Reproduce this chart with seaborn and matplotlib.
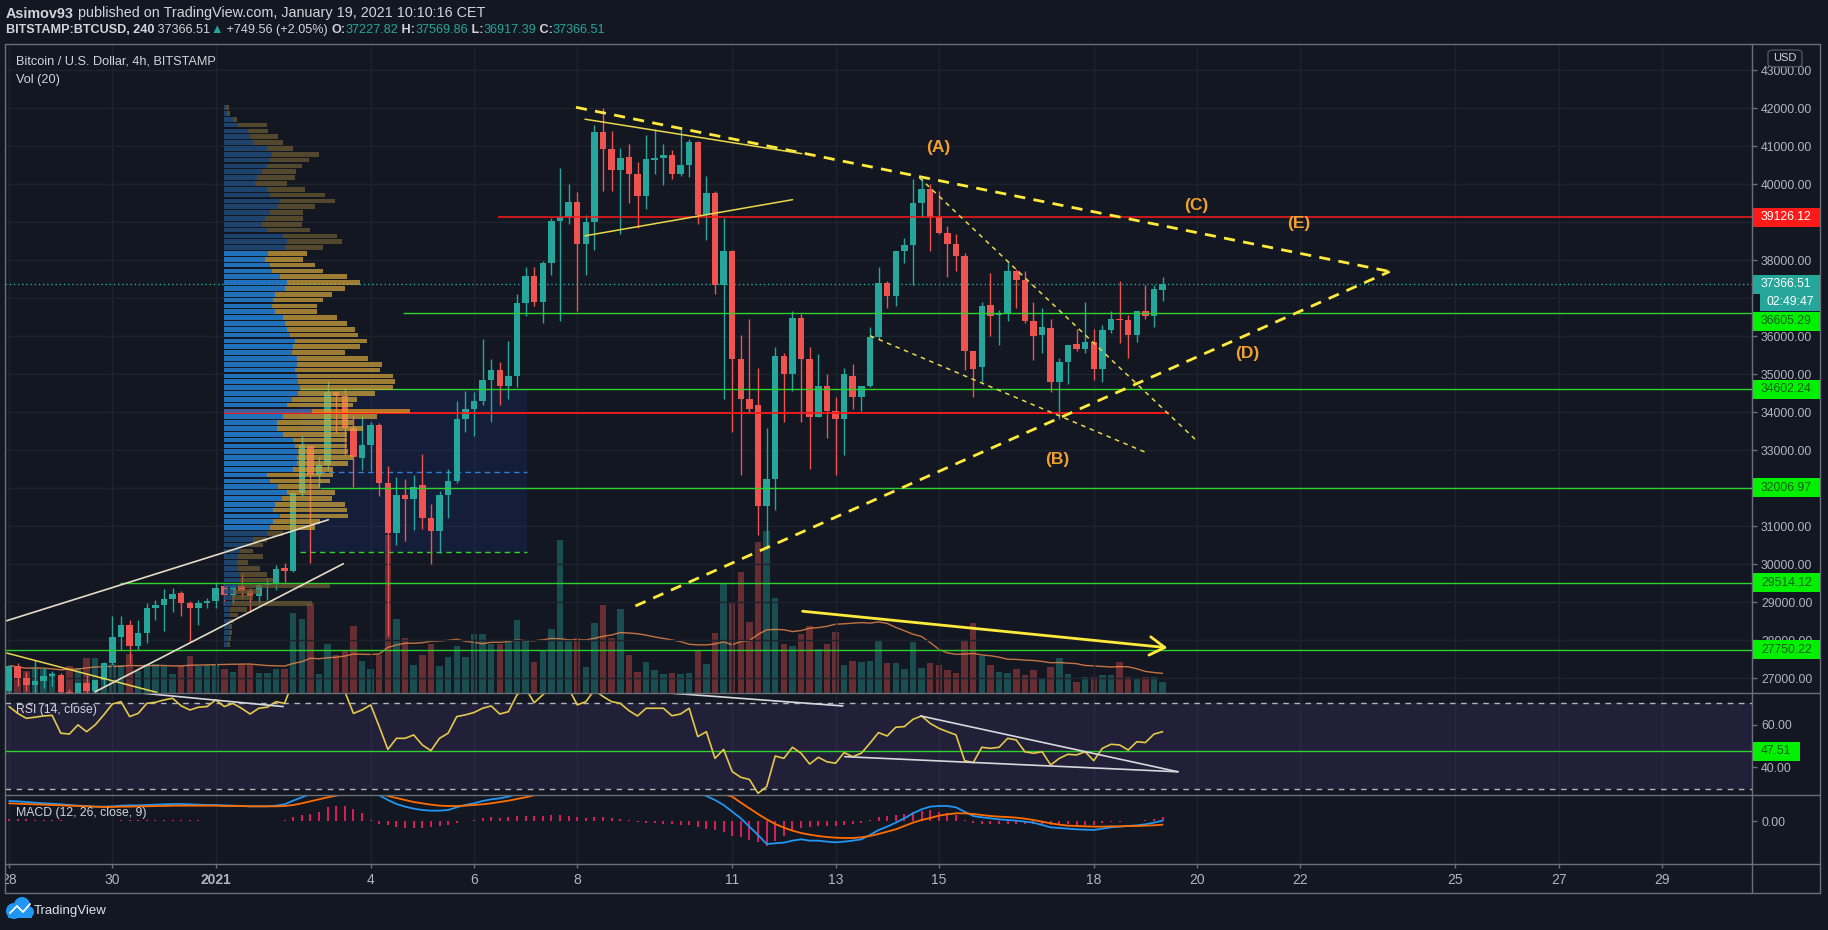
import numpy as np
import pandas as pd
import matplotlib
matplotlib.use("Agg")
import matplotlib.pyplot as plt
from matplotlib.patches import Rectangle, FancyBboxPatch, Ellipse
from matplotlib.lines import Line2D
import seaborn as sns

# ---------------- data ----------------
# 4h bars, x = days from 2021-01-01 00:00, first bar opens Dec 28 00:00
BAR_START = -4.0

opens = [26650, 27310, 27000, 26820, 26910, 27040, 27090, 26640, 26500, 26860,
         26650, 26950, 27390, 28070, 28400, 27830, 28180, 28840, 28930, 29080,
         29230, 28970, 28840, 28970, 29030, 29410, 29190, 29410, 29280, 29150,
         29450, 29500, 29890, 29830, 31870, 33110, 32350, 32610, 34540, 34420,
         33580, 32790, 33140, 33670, 32130, 30810, 31830, 31700, 32090, 31220,
         30860, 31830, 32190, 33830, 34080, 34290, 34850, 35110, 34700, 34960,
         36870, 37590, 36900, 37930, 39030, 39150, 39530, 38440, 39000, 41380,
         40930, 40380, 40720, 40280, 39700, 40640, 40680, 40760, 40280, 40510,
         41100, 39200, 39770, 37360, 38230, 35400, 34340, 34190, 31530, 32240,
         35470, 35010, 36490, 35400, 33880, 34700, 34030, 33830, 34960, 34390,
         34700, 35980, 37410, 37050, 38230, 38390, 39510, 39870, 39150, 38710,
         38440, 38100, 35600, 35190, 36830, 36560, 36610, 37720, 37480, 36390,
         36030, 36220, 34800, 35330, 35790, 35670, 35850, 35130, 36150, 36460,
         36420, 36030, 36670, 36520, 37227.82]
highs = [27350, 27400, 27170, 27480, 27260, 27190, 27130, 26720, 26870, 27080,
         26960, 27420, 28620, 28620, 28530, 28530, 28970, 29060, 29340, 29370,
         29280, 29020, 29060, 29100, 29540, 29500, 29500, 29760, 29370, 29500,
         29630, 29980, 30020, 31900, 33360, 33140, 32830, 34810, 34550, 34630,
         33890, 33890, 33750, 33710, 32570, 32300, 32240, 32340, 32900, 31570,
         31920, 32500, 34290, 34550, 34540, 35930, 35410, 35310, 35880, 37100,
         37820, 37820, 37980, 39100, 40430, 40020, 39800, 39200, 41560, 42020,
         41410, 40950, 41050, 40590, 41300, 41460, 41050, 40890, 41460, 41200,
         41150, 40230, 39820, 39100, 38280, 36030, 36440, 35160, 33570, 35720,
         35570, 36650, 36590, 35720, 35520, 35010, 34390, 35160, 35260, 34700,
         36240, 37820, 37460, 38230, 38590, 40130, 40230, 40020, 39820, 38900,
         38690, 38180, 35600, 36900, 37670, 36700, 37980, 37770, 37720, 36900,
         36750, 36440, 35420, 35780, 36180, 36900, 36180, 36290, 36650, 37460,
         36560, 36650, 37360, 37360, 37569.86]
lows = [26550, 26780, 26650, 26600, 26740, 26780, 26500, 26300, 26300, 26500,
        26550, 26800, 27350, 27740, 27390, 27740, 27920, 28530, 28230, 28750,
        28620, 27960, 28400, 28840, 28840, 28930, 28970, 29100, 28750, 28970,
        29060, 29320, 29540, 29800, 31780, 30030, 32040, 32480, 33450, 32880,
        32040, 32480, 32440, 31780, 28100, 30510, 30600, 30900, 30910, 29990,
        30290, 31200, 32140, 33470, 33370, 34190, 33730, 34190, 34340, 34650,
        36540, 36800, 36340, 37620, 36390, 38950, 36650, 37620, 38280, 39820,
        39820, 38690, 39510, 38850, 39360, 40280, 39970, 40130, 40230, 40180,
        38950, 38540, 37110, 34340, 33470, 32340, 33980, 30760, 30400, 31420,
        33730, 34550, 33730, 32500, 33880, 33320, 32340, 32860, 34090, 34030,
        34650, 35930, 36750, 36800, 37920, 37360, 39150, 38230, 38690, 37570,
        37720, 35110, 34390, 34800, 36010, 35770, 36390, 36750, 36340, 35370,
        35570, 34540, 33830, 34750, 35620, 35570, 34850, 34800, 36080, 35830,
        35420, 35850, 36440, 36240, 36917.39]
closes = [27320, 27000, 26820, 26910, 27040, 27100, 26640, 26500, 26860, 26650,
          26950, 27390, 28070, 28400, 27830, 28180, 28840, 28930, 29080, 29220,
          28970, 28840, 28970, 29030, 29370, 29190, 29410, 29280, 29150, 29450,
          29500, 29870, 29830, 31870, 33140, 32350, 32610, 34540, 34420, 33580,
          32830, 33140, 33670, 32130, 30810, 31830, 31700, 32040, 31220, 30860,
          31830, 32190, 33830, 34080, 34290, 34850, 35110, 34700, 34960, 36870,
          37590, 36900, 37930, 39030, 39150, 39530, 38440, 39000, 41380, 40930,
          40380, 40690, 40280, 39700, 40660, 40680, 40760, 40280, 40510, 41100,
          39200, 39770, 37360, 38230, 35400, 34340, 34090, 31530, 32240, 35470,
          35010, 36490, 35400, 33880, 34700, 34030, 33830, 35010, 34390, 34700,
          35980, 37410, 37050, 38230, 38390, 39510, 39870, 39150, 38710, 38440,
          38100, 35600, 35130, 36800, 36540, 36610, 37720, 37480, 36390, 36010,
          36240, 34800, 35330, 35780, 35670, 35850, 35130, 36150, 36440, 36420,
          36030, 36650, 36520, 37240, 37366.51]
volumes = [1080, 960, 880, 1000, 960, 800, 680, 1080, 1000, 1400,
           1400, 1160, 1160, 1120, 1560, 880, 1160, 1160, 1080, 760,
           1080, 1480, 1080, 1120, 1120, 960, 840, 1120, 1120, 800,
           800, 960, 960, 3200, 2960, 3640, 760, 1960, 1520, 1680,
           2680, 1280, 960, 1520, 6320, 2960, 2200, 1120, 1520, 1960,
           1080, 1440, 1880, 1440, 2360, 2360, 1960, 1960, 2120, 2920,
           2120, 1240, 1680, 2560, 6120, 2120, 2200, 1040, 2800, 3520,
           2200, 3360, 1520, 840, 1240, 920, 760, 800, 760, 800,
           1680, 1160, 2400, 4360, 3640, 4840, 2840, 6040, 6480, 3800,
           1960, 1880, 2360, 2680, 1760, 1960, 2440, 1120, 1280, 1240,
           1280, 2120, 1200, 1200, 960, 2040, 1000, 1200, 1120, 920,
           800, 2120, 2800, 1480, 1120, 840, 800, 960, 720, 920,
           560, 1040, 1400, 760, 440, 640, 640, 720, 720, 1240,
           640, 560, 640, 640, 440]
rsi = [68.5, 65.3, 63.0, 63.5, 64.1, 64.4, 56.0, 55.6, 59.9, 56.7,
       59.9, 64.6, 69.7, 70.8, 63.8, 65.3, 70.0, 70.5, 71.6, 72.4,
       68.8, 66.9, 68.2, 68.5, 71.6, 68.5, 70.0, 67.7, 65.0, 67.7,
       68.2, 70.8, 70.0, 80.5, 85.0, 78.0, 79.0, 85.5, 83.5, 75.5,
       65.3, 66.9, 69.3, 59.1, 48.4, 53.6, 53.6, 55.2, 50.5, 47.8,
       53.6, 56.0, 63.8, 64.6, 65.7, 67.7, 68.8, 65.0, 66.1, 74.0,
       77.0, 70.3, 74.0, 78.0, 78.0, 77.0, 69.3, 70.8, 76.3, 73.2,
       70.8, 70.0, 66.6, 64.1, 67.7, 67.7, 67.7, 64.2, 65.0, 67.7,
       54.4, 56.7, 44.2, 48.4, 38.0, 35.3, 34.3, 27.8, 30.9, 45.3,
       44.2, 49.4, 46.6, 41.5, 44.7, 42.6, 41.9, 46.9, 45.0, 46.6,
       51.3, 56.3, 54.7, 58.8, 59.1, 62.5, 64.1, 60.6, 58.3, 56.7,
       55.2, 43.1, 42.2, 49.4, 48.9, 49.4, 53.6, 52.8, 47.3, 46.6,
       47.3, 41.1, 44.2, 46.1, 45.8, 47.3, 43.1, 48.9, 50.8, 50.5,
       48.1, 52.0, 51.6, 55.6, 56.7]
macd = [813, 800, 773, 747, 720, 707, 680, 653, 627, 613,
        587, 587, 600, 627, 640, 640, 653, 667, 680, 693,
        693, 680, 667, 653, 653, 640, 627, 613, 600, 600,
        600, 627, 680, 827, 960, 1093, 1253, 1520, 1650, 1720,
        1650, 1520, 1280, 1040, 853, 693, 587, 507, 453, 427,
        427, 453, 560, 653, 720, 813, 880, 920, 987, 1093,
        1180, 1260, 1340, 1430, 1500, 1560, 1560, 1570, 1640, 1680,
        1680, 1670, 1630, 1560, 1530, 1490, 1450, 1390, 1340, 1310,
        1170, 1013, 853, 653, 387, 120, -213, -547, -907, -880,
        -853, -773, -720, -773, -773, -813, -840, -813, -773, -720,
        -547, -347, -213, -53, 120, 320, 480, 587, 613, 613,
        560, 387, 213, 160, 120, 80, 53, 27, -13, -53,
        -147, -240, -267, -293, -320, -333, -347, -293, -240, -213,
        -187, -160, -120, -53, 27]
signal = [720, 707, 693, 680, 667, 653, 640, 627, 613, 600,
          587, 573, 573, 587, 587, 600, 600, 613, 613, 627,
          627, 627, 627, 627, 627, 613, 613, 613, 600, 600,
          600, 600, 613, 653, 720, 800, 880, 960, 1027, 1093,
          1160, 1200, 1210, 1150, 1013, 933, 853, 773, 720, 667,
          627, 613, 613, 627, 653, 680, 720, 773, 827, 893,
          960, 1040, 1110, 1180, 1260, 1330, 1380, 1420, 1470, 1510,
          1550, 1580, 1590, 1590, 1580, 1560, 1540, 1510, 1480, 1450,
          1390, 1310, 1200, 1080, 987, 747, 520, 293, 80, -107,
          -253, -373, -467, -533, -587, -627, -653, -667, -667, -640,
          -587, -507, -413, -320, -187, -53, 53, 133, 227, 280,
          320, 320, 293, 253, 213, 187, 173, 147, 107, 53,
          -13, -80, -133, -173, -187, -200, -213, -213, -200, -200,
          -187, -187, -173, -160, -133]

# fixed range volume profile, rows from VP_HIGH down to VP_LOW
VP_HIGH, VP_LOW = 42020, 27889
VA_HIGH, VA_LOW = 38200, 30850
POC = 33990
vp_up = [2, 3, 9, 14, 24, 26, 29, 43, 48, 46, 43, 38, 33, 31, 43, 46, 56, 54, 46, 41,
         38, 43, 59, 63, 61, 44, 41, 46, 48, 56, 63, 61, 51, 49, 48, 51, 59, 61, 63, 66,
         71, 69, 68, 73, 73, 71, 73, 74, 76, 74, 68, 63, 88, 59, 53, 53, 59, 69, 71, 74,
         73, 73, 69, 43, 46, 54, 63, 58, 51, 49, 56, 49, 46, 43, 29, 23, 16, 14, 13, 14,
         16, 16, 14, 9, 8, 8, 6, 6, 5, 5, 5, 5, 4]
vp_total = [5, 6, 13, 43, 44, 54, 59, 69, 95, 85, 78, 72, 71, 63, 81, 101, 111, 91, 79, 79,
            78, 86, 113, 118, 99, 83, 79, 91, 99, 123, 136, 121, 108, 99, 93, 93, 113, 123, 131, 134,
            143, 136, 121, 144, 158, 156, 169, 171, 169, 151, 133, 129, 186, 153, 129, 139, 123, 123, 123, 124,
            129, 124, 109, 109, 106, 96, 111, 108, 121, 123, 124, 96, 91, 59, 43, 39, 29, 39, 24, 36,
            43, 49, 106, 36, 29, 88, 23, 14, 10, 8, 8, 7, 6]

green_levels = [36605.29, 34602.24, 32006.97, 29514.12, 27750.22]
red_levels = [39126.12, POC]
price_ticks = [27000, 28000, 29000, 30000, 31000, 33000, 34000, 35000, 36000,
               38000, 40000, 41000, 42000, 43000]
x_ticks = [-4, -2, 0, 3, 5, 7, 10, 12, 14, 17, 19, 21, 24, 26, 28]
x_labels = ['28', '30', '2021', '4', '6', '8', '11', '13', '15', '18', '20', '22', '25', '27', '29']
waves = {'(A)': (13.99, 40960), '(B)': (16.30, 32760), '(C)': (18.98, 39450),
         '(D)': (19.97, 35555), '(E)': (20.97, 38960)}

# ---------------- style ----------------
BG = '#131722'
TXT = '#d1d4dc'
AX = '#b2b5be'
FRAME = '#6b6f7a'
GRID = '#1e222d'
TEAL = '#26a69a'
RED = '#ef5350'
GREEN = '#2fd12f'
YEL = '#ffeb3b'
ORANGE = '#f0a030'
FS_LAB = 9.2
FS_AX = 8.8

sns.set_theme(style="dark", rc={"figure.facecolor": BG, "axes.facecolor": BG,
                                "savefig.facecolor": BG, "axes.edgecolor": BG,
                                "text.color": TXT})
plt.rcParams['font.family'] = ['Liberation Sans', 'DejaVu Sans']

W, H = 1828, 930
fig = plt.figure(figsize=(W / 100, H / 100), dpi=100)


def rect(x0, y0, x1, y1):
    return [x0 / W, 1 - y1 / H, (x1 - x0) / W, (y1 - y0) / H]


L, R = 5, 1752
TOP, P_BOT, R_BOT, M_BOT, X_BOT, RIGHT = 44, 692.5, 795, 864, 893, 1820
ax_p = fig.add_axes(rect(L, TOP, R, P_BOT))
ax_r = fig.add_axes(rect(L, P_BOT, R, R_BOT))
ax_m = fig.add_axes(rect(L, R_BOT, R, M_BOT))
ax_x = fig.add_axes(rect(L, M_BOT, R, X_BOT))

# calibration: Jan 1 at px 215.7, 51.65 px/day; 42000 at px 108.3, 0.03798 px per USD
XL, XR = (L - 215.7) / 51.65, (R - 215.7) / 51.65
P_LO = 42000 - (P_BOT - 108.3) / 0.03798
P_HI = 42000 - (TOP - 108.3) / 0.03798

for a in (ax_p, ax_r, ax_m, ax_x):
    a.set_xlim(XL, XR)
    for s in a.spines.values():
        s.set_visible(False)
    a.tick_params(axis='x', bottom=False, labelbottom=False)
ax_p.set_ylim(P_LO, P_HI)
ax_r.set_ylim(27.0, 75.1)
ax_m.set_ylim(-1707, 1053)
ax_x.set_ylim(0, 1)
ax_x.set_yticks([])

t = BAR_START + np.arange(len(closes)) / 6.0
o, h, lo, c = (np.asarray(v, float) for v in (opens, highs, lows, closes))
col = np.where(c >= o, TEAL, RED)

# grid
for a in (ax_p, ax_r, ax_m):
    for xt in x_ticks:
        a.axvline(xt, color=GRID, lw=1, zorder=0)
for p in range(27000, 44000, 1000):
    ax_p.axhline(p, color=GRID, lw=1, zorder=0)

# volume on twin axis, below candles
ax_v = ax_p.twinx()
ax_v.set_zorder(ax_p.get_zorder() - 1)
ax_p.patch.set_visible(False)
ax_v.patch.set_visible(False)
ax_v.bar(t, volumes, width=0.125, color=col, alpha=0.38, linewidth=0)
vol_ma = pd.Series(volumes, dtype=float).rolling(20, min_periods=1).mean()
sns.lineplot(x=t, y=vol_ma.values, ax=ax_v, color='#f08a4b', lw=1, alpha=0.8)
ax_v.set_ylim(0, (P_BOT - TOP) * 40)
ax_v.set_xlim(XL, XR)
ax_v.axis('off')

# fixed range box
ax_p.add_patch(Rectangle((1.632, 30306), 6.027 - 1.632, 34604 - 30306,
                         facecolor='#2962ff', alpha=0.10, lw=0, zorder=0.5))
ax_p.hlines([30306], 1.632, 6.027, colors=GREEN, lw=1, ls=(0, (4, 3)), zorder=2)
ax_p.hlines([32437], 2.0, 6.027, colors='#2f7fd8', lw=1, ls=(0, (4, 3)), zorder=2)

# candles
ax_p.vlines(t, lo, h, colors=col, lw=1, zorder=3)
ax_p.bar(t, np.maximum(np.abs(c - o), 25), bottom=np.minimum(o, c), width=0.125,
         color=col, linewidth=0, zorder=3.1)

# horizontal levels
starts_g = [3.63, 1.632, 2.025, -1.85, XL]
for lvl, s in zip(green_levels, starts_g):
    ax_p.hlines(lvl, s, XR, colors=GREEN, lw=1, zorder=4)
ax_p.hlines(red_levels[0], 5.466, XR, colors='#ff1a1a', lw=1.1, zorder=4)
ax_p.hlines(red_levels[1], 0.161, 18.46, colors='#ff1a1a', lw=1.3, zorder=4)
ax_p.axhline(closes[-1], color=TEAL, lw=1, ls=(0, (1, 2)), zorder=2)

# volume profile (drawn over candles)
nrows = len(vp_total)
row_p = np.linspace(VP_HIGH, VP_LOW, nrows)
row_h = (VP_HIGH - VP_LOW) / (nrows - 1)
scale = 3.60 / max(vp_total)
upw = np.asarray(vp_up) * scale
dnw = (np.asarray(vp_total) - np.asarray(vp_up)) * scale
in_va = (row_p <= VA_HIGH) & (row_p >= VA_LOW)
is_poc = np.abs(row_p - POC) < row_h / 2
c_up = np.where(is_poc, '#4a6aa8', np.where(in_va, '#2380d6', '#1f4a7a'))
c_dn = np.where(is_poc, '#f49b1c', np.where(in_va, '#d2a63a', '#6d5b32'))
X0 = 0.161
ax_p.barh(row_p, upw, left=X0, height=row_h * 0.8, color=c_up, alpha=0.85, lw=0, zorder=4.5)
ax_p.barh(row_p, dnw, left=X0 + upw, height=row_h * 0.8, color=c_dn, alpha=0.72, lw=0, zorder=4.5)

# drawings
thick = dict(color=YEL, lw=2.0, ls=(0, (4, 3)), zorder=5)
ax_p.plot([6.975, 22.73], [42026, 37703], **thick)
ax_p.plot([8.126, 22.73], [28897, 37703], **thick)
thin_d = dict(color='#e8d84a', lw=1.1, ls=(0, (3, 3)), zorder=5)
ax_p.plot([13.62, 18.96], [40180, 33290], **thin_d)
ax_p.plot([12.67, 18.06], [36010, 32910], **thin_d)
ax_p.plot([7.15, 11.35], [41713, 40805], color='#e8d84a', lw=1.1, zorder=5)
ax_p.plot([7.15, 11.17], [38642, 39594], color='#e8d84a', lw=1.1, zorder=5)
ax_p.plot([-4.047, -1.142], [27658, 26621], color='#e8d84a', lw=1.1, zorder=5)
ax_p.plot([-4.047, 2.18], [28508, 31166], color='#e6dcc6', lw=1.2, zorder=5)
ax_p.plot([-2.337, 2.47], [26634, 30008], color='#e6dcc6', lw=1.2, zorder=5)
ax_p.annotate('', xy=(18.48, 27790), xytext=(11.31, 28765),
              arrowprops=dict(arrowstyle='->,head_length=0.9,head_width=0.55',
                              color=YEL, lw=2), zorder=5)
for lab, (xx, yy) in waves.items():
    ax_p.text(xx, yy, lab, color=ORANGE, fontsize=12.5, fontweight='bold',
              ha='center', va='center', zorder=6)

# RSI pane
ax_r.axhspan(30, 70, color='#7e57c2', alpha=0.14, lw=0, zorder=0)
for lv in (30, 70):
    ax_r.axhline(lv, color='#b2b5be', lw=1, ls=(0, (4, 4)), zorder=1)
ax_r.axhline(47.51, color=GREEN, lw=1, zorder=2)
sns.lineplot(x=t, y=rsi, ax=ax_r, color='#e3c84a', lw=1.2, zorder=3)
for (x0, y0), (x1, y1) in [((-1.508, 75.0), (1.307, 68.5)), ((8.70, 75.0), (12.14, 68.8)),
                           ((13.65, 64.1), (18.63, 37.9)), ((12.18, 45.0), (18.63, 37.9))]:
    ax_r.plot([x0, x1], [y0, y1], color='#d8d8dc', lw=1.2, zorder=4)

# MACD pane
hist = np.asarray(macd, float) - np.asarray(signal, float)
ax_m.vlines(t, 0, hist, colors='#e91e63', lw=1.3, zorder=1)
sns.lineplot(x=t, y=macd, ax=ax_m, color='#2196f3', lw=1.3, zorder=2)
sns.lineplot(x=t, y=signal, ax=ax_m, color='#ff6d00', lw=1.3, zorder=2)

for a in (ax_p, ax_r, ax_m):
    a.set_xlabel('')
    a.set_ylabel('')
    a.set_xlim(XL, XR)

# right-hand scales (labels hidden under level boxes are left out)
ax_p.yaxis.tick_right()
ax_p.set_yticks(price_ticks)
ax_p.set_yticklabels([f'{v:.2f}' for v in price_ticks])
ax_r.yaxis.tick_right()
ax_r.set_yticks([40, 60])
ax_r.set_yticklabels(['40.00', '60.00'])
ax_m.yaxis.tick_right()
ax_m.set_yticks([0])
ax_m.set_yticklabels(['0.00'])
for a in (ax_p, ax_r, ax_m):
    a.tick_params(axis='y', right=True, left=False, length=3.5, width=1, color=FRAME,
                  labelsize=FS_AX, labelcolor=AX, pad=3)
ax_p.set_ylim(P_LO, P_HI)

# x labels
xt_tr = ax_x.get_xaxis_transform()
ax_x.vlines(x_ticks, 0.85, 1.0, colors=FRAME, lw=1, transform=xt_tr)
for xt, lab in zip(x_ticks, x_labels):
    ax_x.text(xt, 0.45, lab, transform=xt_tr, ha='center', va='center', fontsize=10,
              color=AX, fontweight='bold' if lab == '2021' else 'normal', clip_on=True)

# frame
for (x0, y0, x1, y1) in [(L, TOP, RIGHT, TOP), (L, P_BOT, RIGHT, P_BOT), (L, R_BOT, RIGHT, R_BOT),
                         (L, M_BOT, RIGHT, M_BOT), (L, X_BOT, RIGHT, X_BOT),
                         (L, TOP, L, X_BOT), (R, TOP, R, X_BOT), (RIGHT, TOP, RIGHT, X_BOT)]:
    fig.add_artist(Line2D([x0 / W, x1 / W], [1 - y0 / H, 1 - y1 / H], color=FRAME, lw=1,
                          transform=fig.transFigure, zorder=8))


def box(ax, value, text, face, tc, x1=RIGHT, shift=0, hh=19):
    fig.canvas.draw()
    yd = ax.transData.transform((0, value))[1] - shift
    fig.add_artist(Rectangle(((R + 1) / W, (yd - hh / 2) / H), (x1 - R - 1) / W, hh / H,
                             transform=fig.transFigure, facecolor=face, lw=0, zorder=10))
    fig.text(1761 / W, yd / H, text, color=tc, fontsize=FS_AX, ha='left', va='center', zorder=11)
    return yd


box(ax_p, red_levels[0], f'{red_levels[0]:.2f}', '#ff1a1a', 'white')
yd_last = box(ax_p, closes[-1], f'{closes[-1]:.2f}', TEAL, 'white')
fig.add_artist(Rectangle((1760 / W, (yd_last - 9.5 - 17.5) / H), 60 / W, 17.5 / H,
                         transform=fig.transFigure, facecolor=TEAL, lw=0, zorder=10))
fig.text(1790 / W, (yd_last - 18.2) / H, '02:49:47', color='white', fontsize=FS_AX,
         ha='center', va='center', zorder=11)
box(ax_p, green_levels[0], f'{green_levels[0]:.2f}', '#00f000', '#136013', shift=8)
for lvl in green_levels[1:]:
    box(ax_p, lvl, f'{lvl:.2f}', '#00f000', '#136013')
box(ax_r, 47.51, '47.51', '#00f000', '#136013', x1=1800)

fig.add_artist(FancyBboxPatch((1768 / W, 1 - 66.7 / H), 34 / W, 16.7 / H,
                              boxstyle='round,pad=0,rounding_size=0.003',
                              transform=fig.transFigure, facecolor=BG,
                              edgecolor='#50535e', lw=1, zorder=10))
fig.text(1785 / W, 1 - 58.3 / H, 'USD', color=TXT, fontsize=8, ha='center',
         va='center', zorder=11)

# header text runs
renderer = fig.canvas.get_renderer()


def run(x_px, y_px, parts, size=FS_LAB):
    x = x_px
    for s, cc, wt in parts:
        tt = fig.text(x / W, 1 - y_px / H, s, color=cc, fontsize=size, fontweight=wt,
                      ha='left', va='center')
        x += tt.get_window_extent(renderer=renderer).width


run(6, 13.5, [('Asimov93', TXT, 'bold'),
              (' published on TradingView.com, January 19, 2021 10:10:16 CET', TXT, 'normal')], size=10.4)
run(6, 30, [('BITSTAMP:BTCUSD, 240', TXT, 'bold'), (f' {closes[-1]:.2f}', TXT, 'normal'),
            ('\u25b2', TEAL, 'normal'), (' +749.56 (+2.05%) ', TXT, 'normal'),
            ('O:', TXT, 'bold'), (f'{opens[-1]:.2f}', TEAL, 'normal'),
            (' H:', TXT, 'bold'), (f'{highs[-1]:.2f}', TEAL, 'normal'),
            (' L:', TXT, 'bold'), (f'{lows[-1]:.2f}', TEAL, 'normal'),
            (' C:', TXT, 'bold'), (f'{closes[-1]:.2f}', TEAL, 'normal')], size=9.1)
fig.text(15.5 / W, 1 - 61 / H, 'Bitcoin / U.S. Dollar, 4h, BITSTAMP', color=TXT, fontsize=FS_LAB, va='center')
fig.text(15.5 / W, 1 - 80 / H, 'Vol (20)', color=TXT, fontsize=FS_LAB, va='center')
fig.text(15.5 / W, 1 - 710 / H, 'RSI (14, close)', color=TXT, fontsize=8.8, va='center', zorder=9)
fig.text(15.5 / W, 1 - 813 / H, 'MACD (12, 26, close, 9)', color=TXT, fontsize=8.8, va='center', zorder=9)

# footer logo + name
for (cx, cy, rw) in [(14, 911, 8), (22, 905, 8), (28, 912, 6)]:
    fig.add_artist(Ellipse((cx / W, 1 - cy / H), 2 * rw / W, 2 * rw / H,
                           transform=fig.transFigure, facecolor='#2196f3', lw=0))
fig.add_artist(Rectangle((8 / W, 1 - 918 / H), 24 / W, 8 / H, transform=fig.transFigure,
                         facecolor='#2196f3', lw=0))
fig.add_artist(Line2D([10 / W, 17 / W, 23 / W, 30 / W], [1 - 913 / H, 1 - 906 / H, 1 - 912 / H, 1 - 904 / H],
                      color='white', lw=1.3, transform=fig.transFigure))
fig.text(34 / W, 1 - 911 / H, 'TradingView', color='#e0e3eb', fontsize=9.5, va='center')

fig.savefig('out.png', dpi=100)
